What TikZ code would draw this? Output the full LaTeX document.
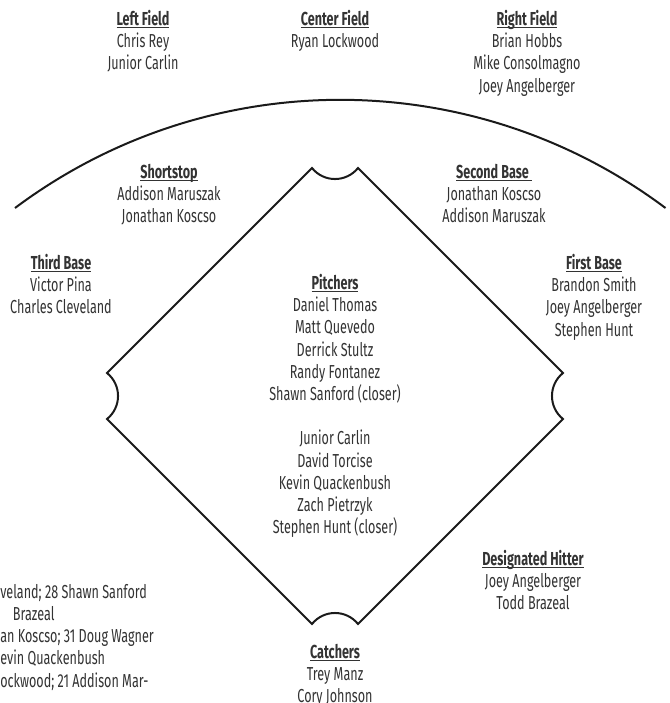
\documentclass[tikz,border=0pt]{standalone}
\usepackage{fontspec}
\setmainfont{Fira Sans}[FakeStretch=0.67]
\usepackage{tikz}
\usetikzlibrary{calc}
\definecolor{ink}{HTML}{333333}
\definecolor{chalk}{HTML}{1A1A1A}
\newsavebox{\titlebox}
\newcommand{\postitle}[1]{%
  \sbox{\titlebox}{\textbf{#1}}%
  \rlap{\usebox{\titlebox}}\rule[-2.2pt]{\wd\titlebox}{0.75pt}}
\tikzset{
  field/.style={
    draw=chalk,
    line width=1.5pt,
    line join=miter
  },
  roster/.style={
    align=center,
    anchor=north,
    inner sep=0pt,
    text=ink,
    font=\fontsize{14.1}{16.65}\selectfont
  },
  notes/.style={
    roster,
    align=left,
    anchor=north west
  }
}
\begin{document}
\begin{tikzpicture}[x=0.75pt,y=-0.75pt]
        \useasboundingbox (0,0) rectangle (670,703);
        % outfield fence
        \draw[field] (15,208) arc[start angle=-126.8, end angle=-53.2, radius=543];
        % infield
        \coordinate (t1) at (312,168);
        \coordinate (t2) at (358,168);
        \coordinate (r1) at (563,373);
        \coordinate (r2) at (563,419);
        \coordinate (b2) at (358,624);
        \coordinate (b1) at (312,624);
        \coordinate (l2) at (107,419);
        \coordinate (l1) at (107,373);
        \draw[field] (t1) .. controls +(11.8,14.7) and +(-11.8,14.7) .. (t2) -- (r1)
          .. controls +(-14.7,11.8) and +(-14.7,-11.8) .. (r2) -- (b2)
          .. controls +(-11.8,-14.7) and +(11.8,-14.7) .. (b1) -- (l2)
          .. controls +(14.7,-11.8) and +(14.7,11.8) .. (l1) -- cycle;
        % positions
        \node[roster] (lf) at (143,10) {\postitle{Left Field}\\Chris Rey\\Junior Carlin};
        \node[roster] (cf) at (335,10) {\postitle{Center Field}\\Ryan Lockwood};
        \node[roster] (rf) at (527,10) {\postitle{Right Field}\\Brian Hobbs\\Mike Consolmagno\\Joey Angelberger};
        \node[roster] (ss) at (169,164) {\postitle{Shortstop}\\Addison Maruszak\\Jonathan Koscso};
        \node[roster] (sb) at (494,164) {\postitle{Second Base\ }\\Jonathan Koscso\\Addison Maruszak};
        \node[roster] (tb) at (61,254) {\postitle{Third Base}\\Victor Pina\\Charles Cleveland};
        \node[roster] (fb) at (594,254) {\postitle{First Base}\\Brandon Smith\\Joey Angelberger\\Stephen Hunt};
        \node[roster] (pit) at (335,274) {\postitle{Pitchers}\\Daniel Thomas\\Matt Quevedo\\Derrick Stultz\\Randy Fontanez\\Shawn Sanford (closer)\\[16.65pt]Junior Carlin\\David Torcise\\Kevin Quackenbush\\Zach Pietrzyk\\Stephen Hunt (closer)};
        \node[roster] (dh) at (533,550) {\postitle{Designated Hitter}\\Joey Angelberger\\Todd Brazeal};
        \node[roster] (cat) at (335,644) {\postitle{Catchers}\\Trey Manz\\Cory Johnson};
        \node[notes] (notes) at (0,584) {veland; 28 Shawn Sanford\\\hspace*{9.5pt}Brazeal\\an Koscso; 31 Doug Wagner\\evin Quackenbush\\ockwood; 21 Addison Mar-};
    \end{tikzpicture}
\end{document}
